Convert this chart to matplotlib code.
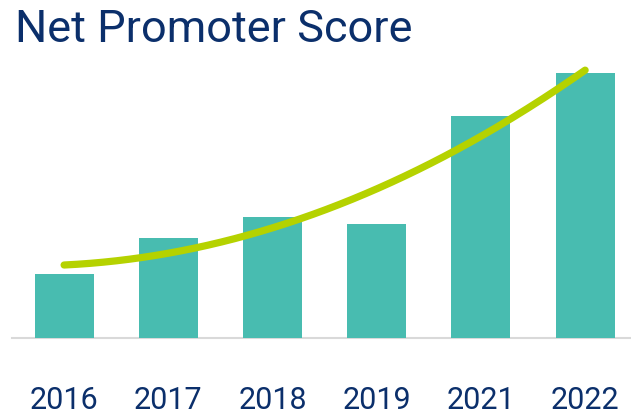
import numpy as np
import matplotlib
matplotlib.use("Agg")
import matplotlib.pyplot as plt

years = ["2016", "2017", "2018", "2019", "2021", "2022"]
scores = [63.5, 99.5, 120.8, 113.8, 221.5, 264.5]

title = "Net Promoter Score"
bar_color = "#48BCB0"
trend_color = "#B5D200"
text_color = "#0B2F6B"

W, H = 631, 418
fig = plt.figure(figsize=(W / 100, H / 100), dpi=100)

base_px = 337.5
top_px = 60.0
left_px = 12.0
ax = fig.add_axes([left_px / W, (H - base_px) / H, 1 - left_px / W, (base_px - top_px) / H])

x = np.arange(len(years))
ax.bar(x, scores, width=0.567, color=bar_color, zorder=2)

# polynomial (order 2) trendline fitted to the bar values
coef = np.polyfit(x, scores, 2)
xs = np.linspace(0, len(years) - 1, 200)
ax.plot(xs, np.polyval(coef, xs), color=trend_color, lw=5.2,
        solid_capstyle="round", zorder=3)

ax.set_xlim(-0.5, 5.44)
ax.set_ylim(0, base_px - top_px)

for s in ["top", "right", "left"]:
    ax.spines[s].set_visible(False)
ax.spines["bottom"].set_color("#D9D9D9")
ax.spines["bottom"].set_linewidth(1.5)
ax.spines["bottom"].set_zorder(1)
ax.set_yticks([])
ax.set_xticks(x)
ax.set_xticklabels(years, fontfamily="Roboto", fontsize=22, color=text_color)
ax.tick_params(axis="x", length=0, pad=35)

fig.text(15 / W, 1 - 42 / H, title, fontfamily="Roboto", fontsize=32.5,
         color=text_color, va="baseline", ha="left")

fig.savefig("out.png", dpi=100)
